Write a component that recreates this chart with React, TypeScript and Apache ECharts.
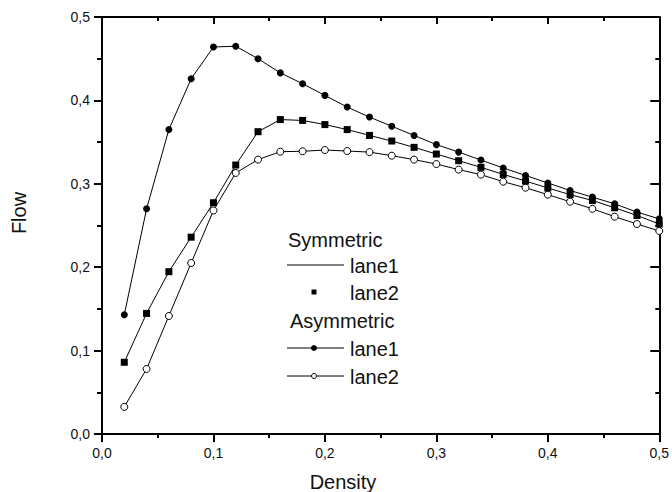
import React, { useEffect, useRef } from "react";
import * as echarts from "echarts";

const density = [0.02, 0.04, 0.06, 0.08, 0.1, 0.12, 0.14, 0.16, 0.18, 0.2, 0.22, 0.24, 0.26, 0.28, 0.3, 0.32, 0.34, 0.36, 0.38, 0.4, 0.42, 0.44, 0.46, 0.48, 0.5];
const asymLane1 = [0.143, 0.27, 0.365, 0.426, 0.464, 0.465, 0.45, 0.433, 0.42, 0.406, 0.392, 0.38, 0.369, 0.358, 0.347, 0.338, 0.3285, 0.319, 0.31, 0.301, 0.292, 0.284, 0.276, 0.266, 0.258];
const asymLane2 = [0.0325, 0.078, 0.1415, 0.205, 0.268, 0.313, 0.329, 0.3385, 0.339, 0.3405, 0.3393, 0.338, 0.3337, 0.329, 0.3237, 0.317, 0.311, 0.3025, 0.2953, 0.287, 0.2785, 0.27, 0.2606, 0.2518, 0.2434];
const symLane1 = [0.086, 0.1446, 0.1946, 0.236, 0.2773, 0.3225, 0.3625, 0.377, 0.376, 0.371, 0.365, 0.358, 0.3513, 0.3437, 0.3357, 0.3277, 0.3197, 0.3113, 0.3033, 0.295, 0.287, 0.28, 0.2713, 0.262, 0.2518];
const symLane2 = [0.086, 0.1446, 0.1946, 0.236, 0.2773, 0.3225, 0.3625, 0.377, 0.376, 0.371, 0.365, 0.358, 0.3513, 0.3437, 0.3357, 0.3277, 0.3197, 0.3113, 0.3033, 0.295, 0.287, 0.28, 0.2713, 0.262, 0.2518];

const legendLabels = ["Symmetric", "lane1", "lane2", "Asymmetric", "lane1", "lane2"];

const FONT = "Liberation Sans, Arial, sans-serif";
const pairs = (ys: number[]) => density.map((x, i) => [x, ys[i]]);
const fmt = (v: number) => v.toFixed(1).replace(".", ",");

export default function App() {
  const ref = useRef<HTMLDivElement>(null);
  useEffect(() => {
    if (!ref.current) return;
    const chart = echarts.init(ref.current, null, { renderer: "svg" });
    const axisLine = { show: true, onZero: false, lineStyle: { color: "#000", width: 2 } };
    const baseX = {
      type: "value" as const,
      min: 0,
      max: 0.5,
      interval: 0.1,
      splitLine: { show: false },
      axisLine,
    };
    const baseY = {
      type: "value" as const,
      min: 0,
      max: 0.5,
      interval: 0.1,
      splitLine: { show: false },
      axisLine,
    };
    const label = { color: "#111", fontSize: 14, fontFamily: FONT, formatter: fmt };
    const textStyle = { fill: "#111", fontSize: 20, fontFamily: FONT };
    chart.setOption({
      animation: false,
      backgroundColor: "#fff",
      grid: { left: 102, right: 10, top: 17, bottom: 58 },
      xAxis: [
        {
          ...baseX,
          position: "bottom",
          axisTick: { show: true, length: 8, lineStyle: { color: "#000", width: 2 } },
          minorTick: { show: true, splitNumber: 2, length: 4, lineStyle: { color: "#000", width: 2 } },
          axisLabel: { ...label, margin: 12 },
        },
        {
          ...baseX,
          position: "top",
          axisTick: { show: true, inside: true, length: 7, lineStyle: { color: "#000", width: 2 } },
          minorTick: { show: true, splitNumber: 2, length: 4, lineStyle: { color: "#000", width: 2 } },
          axisLabel: { show: false },
        },
      ],
      yAxis: [
        {
          ...baseY,
          position: "left",
          axisTick: { show: true, length: 8, lineStyle: { color: "#000", width: 2 } },
          minorTick: { show: true, splitNumber: 2, length: 5, lineStyle: { color: "#000", width: 2 } },
          axisLabel: { ...label, margin: 12 },
        },
        {
          ...baseY,
          position: "right",
          axisTick: { show: true, inside: true, length: 9, lineStyle: { color: "#000", width: 2 } },
          minorTick: { show: true, splitNumber: 2, length: 4, lineStyle: { color: "#000", width: 2 } },
          axisLabel: { show: false },
        },
      ],
      series: [
        {
          type: "line",
          name: "Symmetric lane1",
          data: pairs(symLane1),
          showSymbol: false,
          symbol: "none",
          lineStyle: { color: "#000", width: 1 },
          z: 2,
        },
        {
          type: "scatter",
          name: "Symmetric lane2",
          data: pairs(symLane2),
          symbol: "rect",
          symbolSize: 7,
          itemStyle: { color: "#000", opacity: 1 },
          z: 5,
        },
        {
          type: "line",
          name: "Asymmetric lane1",
          data: pairs(asymLane1),
          symbol: "circle",
          symbolSize: 7,
          itemStyle: { color: "#000" },
          lineStyle: { color: "#000", width: 1 },
          z: 4,
        },
        {
          type: "line",
          name: "Asymmetric lane2",
          data: pairs(asymLane2),
          symbol: "circle",
          symbolSize: 7,
          itemStyle: { color: "#fff", borderColor: "#000", borderWidth: 1 },
          lineStyle: { color: "#000", width: 1 },
          z: 3,
        },
      ],
      graphic: [
        { type: "text", x: 19, y: 213, rotation: Math.PI / 2, style: { ...textStyle, text: "Flow", align: "center", verticalAlign: "middle" } },
        { type: "text", x: 343, y: 482, style: { ...textStyle, text: "Density", align: "center", verticalAlign: "middle" } },
        { type: "text", x: 288, y: 240, style: { ...textStyle, text: legendLabels[0], verticalAlign: "middle" } },
        { type: "line", shape: { x1: 287, y1: 265, x2: 344, y2: 265 }, style: { stroke: "#000", lineWidth: 1 } },
        { type: "text", x: 350, y: 266, style: { ...textStyle, text: legendLabels[1], verticalAlign: "middle" } },
        { type: "rect", shape: { x: 311.5, y: 289.5, width: 5, height: 5 }, style: { fill: "#000" } },
        { type: "text", x: 350, y: 293, style: { ...textStyle, text: legendLabels[2], verticalAlign: "middle" } },
        { type: "text", x: 290, y: 321, style: { ...textStyle, text: legendLabels[3], verticalAlign: "middle" } },
        { type: "line", shape: { x1: 287, y1: 348, x2: 344, y2: 348 }, style: { stroke: "#000", lineWidth: 1 } },
        { type: "circle", shape: { cx: 314, cy: 348, r: 3 }, style: { fill: "#000" } },
        { type: "text", x: 350, y: 349, style: { ...textStyle, text: legendLabels[4], verticalAlign: "middle" } },
        { type: "line", shape: { x1: 287, y1: 376, x2: 344, y2: 376 }, style: { stroke: "#000", lineWidth: 1 } },
        { type: "circle", shape: { cx: 314, cy: 376, r: 2.5 }, style: { fill: "#fff", stroke: "#000", lineWidth: 1 }, z: 10 },
        { type: "text", x: 350, y: 377, style: { ...textStyle, text: legendLabels[5], verticalAlign: "middle" } },
      ],
    });
    return () => chart.dispose();
  }, []);
  return <div ref={ref} style={{ position: "fixed", left: 0, top: 0, width: 672, height: 492 }} />;
}
